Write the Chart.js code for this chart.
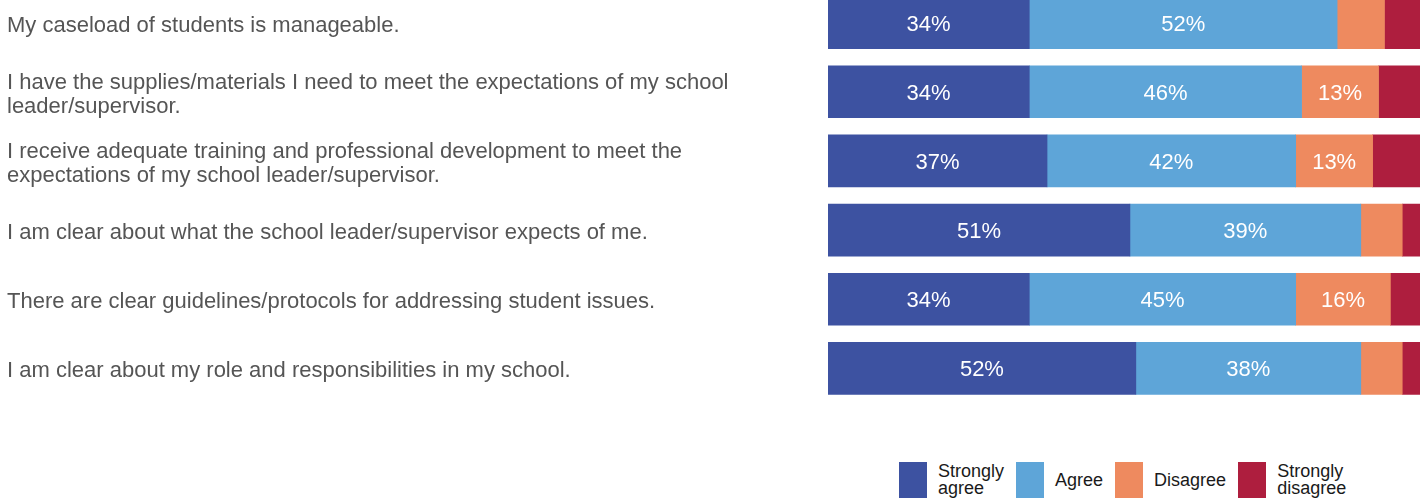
<!DOCTYPE html>
<html>
<head>
<meta charset="utf-8">
<script src="https://cdn.jsdelivr.net/npm/chart.js@4"></script>
<style>
	html, body { margin: 0; padding: 0; background: #fff; }
	#wrap { position: relative; width: 1427px; height: 502px; overflow: hidden; }
	#plot { position: absolute; left: 0; top: -12px; width: 1427px; height: 415px; }
	#legend { position: absolute; left: 899px; top: 462px; display: flex; font-family: "Liberation Sans", Arial, sans-serif; font-size: 18px; line-height: 17px; color: #1a1a1a; }
	.item { display: flex; align-items: center; margin-right: 12px; }
	.swatch { width: 28px; height: 36px; margin-right: 11px; }
</style>
</head>
<body>
<div id="wrap">
	<div id="plot"><canvas id="surveyChart"></canvas></div>
	<div id="legend"></div>
</div>
<script>
const categories = [
	'My caseload of students is manageable.',
	['I have the supplies/materials I need to meet the expectations of my school', 'leader/supervisor.'],
	['I receive adequate training and professional development to meet the', 'expectations of my school leader/supervisor.'],
	'I am clear about what the school leader/supervisor expects of me.',
	'There are clear guidelines/protocols for addressing student issues.',
	'I am clear about my role and responsibilities in my school.'
];
const seriesNames = [['Strongly', 'agree'], ['Agree'], ['Disagree'], ['Strongly', 'disagree']];
const seriesColors = ['#3d52a1', '#5ea5d8', '#ee8a5f', '#ae1e3e'];
const stronglyAgree = [34, 34, 37, 51, 34, 52];
const agree = [52, 46, 42, 39, 45, 38];
const disagree = [8, 13, 13, 7, 16, 7];
const stronglyDisagree = [6, 7, 8, 3, 5, 3];
const seriesValues = [stronglyAgree, agree, disagree, stronglyDisagree];

// white percentage labels inside the larger segments
const valueLabels = {
	id: 'valueLabels',
	afterDatasetsDraw(chart) {
		const ctx = chart.ctx;
		ctx.save();
		ctx.fillStyle = '#fff';
		ctx.font = '22px "Liberation Sans", Arial, sans-serif';
		ctx.textAlign = 'center';
		ctx.textBaseline = 'middle';
		chart.data.datasets.forEach(function(ds, i) {
			chart.getDatasetMeta(i).data.forEach(function(bar, j) {
				const v = ds.data[j];
				if (v < 10) return;
				const c = bar.getCenterPoint();
				ctx.fillText(v + '%', c.x, c.y + 2);
			});
		});
		ctx.restore();
	}
};

const ctx = document.getElementById('surveyChart').getContext('2d');
new Chart(ctx, {
	type: 'bar',
	data: {
		labels: categories,
		datasets: seriesValues.map(function(vals, i) {
			return {
				label: seriesNames[i].join(' '),
				data: vals,
				backgroundColor: seriesColors[i],
				borderWidth: 0,
				barThickness: 52
			};
		})
	},
	options: {
		indexAxis: 'y',
		responsive: true,
		maintainAspectRatio: false,
		animation: false,
		layout: { padding: { left: 7, right: 7, top: 0, bottom: 0 } },
		scales: {
			x: { stacked: true, min: 0, max: 100, display: false },
			y: {
				stacked: true,
				grid: { display: false, drawTicks: false },
				border: { display: false },
				ticks: {
					autoSkip: false,
					crossAlign: 'far',
					labelOffset: 3,
					color: '#555',
					font: { family: '"Liberation Sans", Arial, sans-serif', size: 22, lineHeight: 1.07 }
				},
				afterFit: function(scale) {
					scale.width = 821;
					scale.paddingTop = 0; // no extra room for the first/last label
					scale.paddingBottom = 0;
				}
			}
		},
		plugins: {
			legend: { display: false },
			tooltip: { enabled: false }
		}
	},
	plugins: [valueLabels]
});

// legend below the bars
const legend = document.getElementById('legend');
seriesNames.forEach(function(name, i) {
	const item = document.createElement('div');
	item.className = 'item';
	item.innerHTML = '<div class="swatch" style="background:' + seriesColors[i] + '"></div><div>' + name.join('<br>') + '</div>';
	legend.appendChild(item);
});
</script>
</body>
</html>
